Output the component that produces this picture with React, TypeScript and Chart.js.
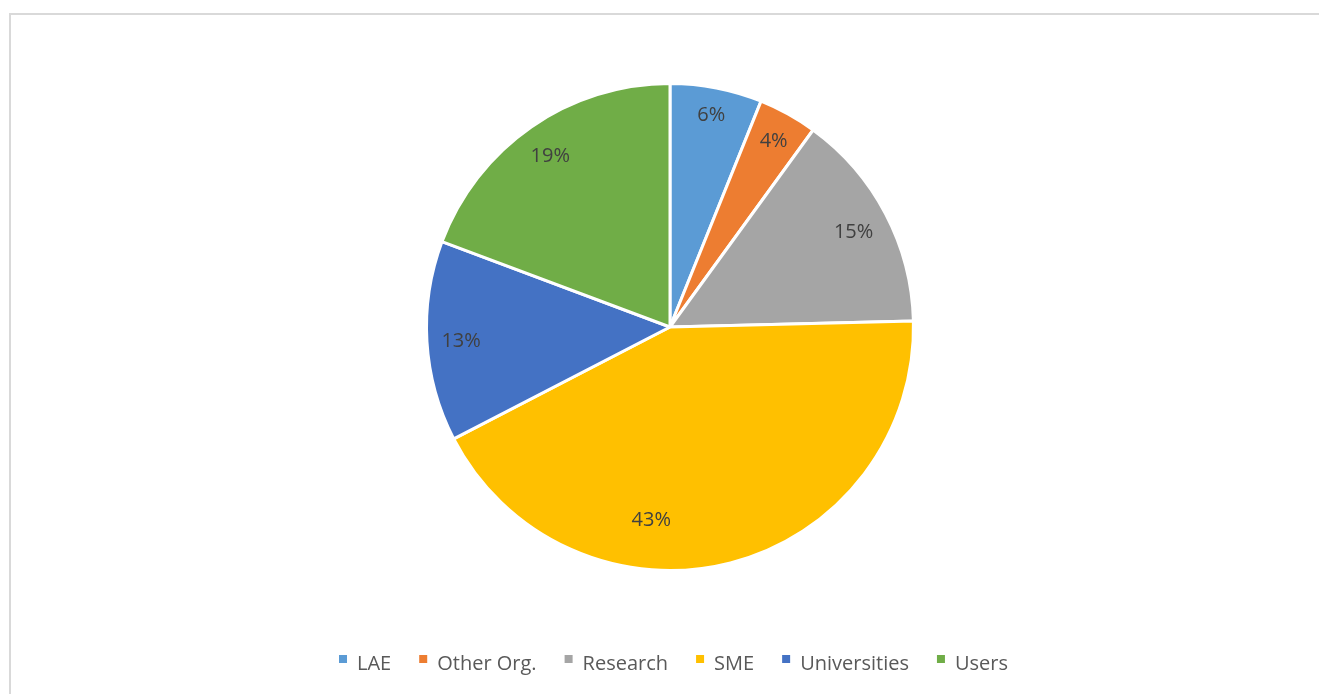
import React, { useEffect, useRef } from "react";
import { Chart, registerables } from "chart.js";

Chart.register(...registerables);

const categories = ["LAE", "Other Org.", "Research", "SME", "Universities", "Users"];
const shares = [6.1, 3.9, 14.6, 42.8, 13.3, 19.3];
const sliceColors = ["#5B9BD5", "#ED7D31", "#A5A5A5", "#FFC000", "#4472C4", "#70AD47"];

const FONT = "'Open Sans', 'Noto Sans', sans-serif";

// Labels placed "inside end": the text box is pushed out until it sits a fixed margin inside the rim.
const sliceLabelPlugin = {
  id: "sliceLabels",
  afterDatasetsDraw(chart: any, _args: any, opts: any) {
    const ctx = chart.ctx;
    const meta = chart.getDatasetMeta(0);
    const data = chart.data.datasets[0].data as number[];
    const total = data.reduce((a, b) => a + b, 0);
    ctx.save();
    ctx.font = `${opts.size}px ${FONT}`;
    ctx.fillStyle = opts.color;
    ctx.textAlign = "center";
    ctx.textBaseline = "alphabetic";
    meta.data.forEach((arc: any, i: number) => {
      const p = arc.getProps(["x", "y", "startAngle", "endAngle", "outerRadius"], true);
      const text = Math.round((data[i] / total) * 100) + "%";
      const w = ctx.measureText(text).width;
      const h = opts.size;
      const tweak = (opts.tweaks && opts.tweaks[i]) || {};
      const a = (p.startAngle + p.endAngle) / 2 + ((tweak.shift || 0) * Math.PI) / 180;
      const extent = Math.abs(Math.cos(a)) * (w / 2) + Math.abs(Math.sin(a)) * (h / 2);
      const d = tweak.radius != null ? p.outerRadius * tweak.radius : p.outerRadius - opts.margin - extent;
      const cx = p.x + Math.cos(a) * d;
      const cy = p.y + Math.sin(a) * d;
      ctx.fillText(text, cx, cy + opts.size * 0.36);
    });
    ctx.restore();
  },
};

const bottomLegendPlugin = {
  id: "bottomLegend",
  afterDraw(chart: any, _args: any, opts: any) {
    const ctx = chart.ctx;
    const labels = chart.data.labels as string[];
    const colors = chart.data.datasets[0].backgroundColor as string[];
    ctx.save();
    ctx.font = `${opts.size}px ${FONT}`;
    const widths = labels.map((l) => ctx.measureText(l).width);
    const total =
      widths.reduce((s, w) => s + opts.box + opts.boxGap + w, 0) + opts.itemGap * (labels.length - 1);
    let x = chart.width / 2 + opts.offsetX - total / 2;
    labels.forEach((l, i) => {
      ctx.fillStyle = colors[i];
      ctx.fillRect(x, opts.boxTop, opts.box, opts.box);
      x += opts.box + opts.boxGap;
      ctx.fillStyle = opts.color;
      ctx.textAlign = "left";
      ctx.textBaseline = "alphabetic";
      ctx.fillText(l, x, opts.baseline);
      x += widths[i] + opts.itemGap;
    });
    ctx.restore();
  },
};

export default function App() {
  const ref = useRef<HTMLCanvasElement | null>(null);

  useEffect(() => {
    if (!ref.current) return;
    const chart = new Chart(ref.current, {
      type: "pie",
      data: {
        labels: categories,
        datasets: [
          {
            data: shares,
            backgroundColor: sliceColors,
            borderColor: "#FFFFFF",
            borderWidth: 3,
          },
        ],
      },
      options: {
        responsive: false,
        animation: false,
        layout: { padding: { top: 67, bottom: 122, left: 10, right: 0 } },
        plugins: {
          legend: { display: false },
          tooltip: { enabled: false },
          sliceLabels: {
            size: 20,
            color: "#404040",
            margin: 14,
            tweaks: { 3: { shift: 20, radius: 0.79 } },
          },
          bottomLegend: {
            size: 20,
            color: "#595959",
            box: 8,
            boxGap: 10,
            itemGap: 28,
            offsetX: 8.5,
            boxTop: 640,
            baseline: 655,
          },
        } as any,
      },
      plugins: [sliceLabelPlugin, bottomLegendPlugin],
    });
    return () => chart.destroy();
  }, []);

  return (
    <div
      style={{
        position: "absolute",
        left: 9,
        top: 13,
        width: 1310,
        height: 681,
        boxSizing: "border-box",
        borderTop: "2px solid #D9D9D9",
        borderLeft: "2px solid #D9D9D9",
        background: "#FFFFFF",
        overflow: "hidden",
      }}
    >
      <canvas ref={ref} width={1308} height={679} style={{ display: "block", width: 1308, height: 679 }} />
    </div>
  );
}
